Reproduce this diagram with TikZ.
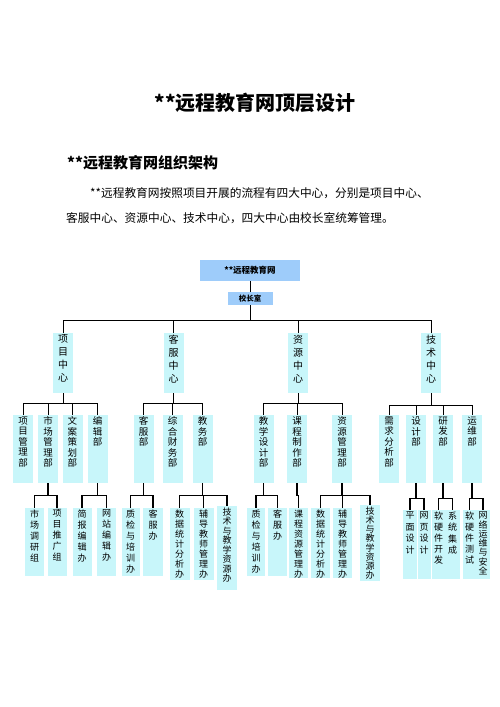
\documentclass[tikz,border=0pt]{standalone}
\usepackage{fontspec}
\newfontfamily\cjk{Noto Sans CJK SC}
\definecolor{topblue}{RGB}{158,204,250}
\definecolor{cyanbox}{RGB}{200,246,250}
\newcommand{\vt}[4]{\parbox[t][#1pt][t]{#2pt}{\centering\lineskiplimit=-20pt\baselineskip=#3pt\relax\vspace*{1.5pt}#4\par}}
\begin{document}
\begin{tikzpicture}[x=1pt,y=-1pt,
  ln/.style={draw=black,line width=0.8pt},
  lnb/.style={draw=black,line width=1.3pt},
  topbox/.style={fill=topblue,inner sep=0pt,font=\cjk\bfseries\fontsize{8.5}{10}\selectfont},
  lvA/.style={fill=cyanbox,inner sep=0pt,anchor=north,font=\cjk\fontsize{10}{12}\selectfont},
  lvB/.style={fill=cyanbox,inner sep=0pt,anchor=north,font=\cjk\fontsize{9.5}{11}\selectfont},
  lvC/.style={fill=cyanbox,inner sep=0pt,anchor=north,font=\cjk\fontsize{9}{11}\selectfont},
  txt/.style={inner sep=0pt,font=\cjk}]
\useasboundingbox (0,0) rectangle (500,707);
% headings
\node[txt,font=\cjk\bfseries\fontsize{20}{24}\selectfont] (title) at (255,103) {**远程教育网顶层设计};
\node[txt,anchor=west,font=\cjk\bfseries\fontsize{15}{18}\selectfont] (sub) at (67,163) {**远程教育网组织架构};
\node[txt,anchor=west,font=\cjk\fontsize{11.7}{14}\selectfont] (p1) at (90,193) {**远程教育网按照项目开展的流程有四大中心，分别是项目中心、};
\node[txt,anchor=west,font=\cjk\fontsize{11.7}{14}\selectfont] (p2) at (66,218) {客服中心、资源中心、技术中心，四大中心由校长室统筹管理。};
% top
\node[topbox,minimum width=100pt,minimum height=21pt] (root) at (250,270.5) {**远程教育网};
\node[topbox,minimum width=45pt,minimum height=13pt,font=\cjk\bfseries\fontsize{7.5}{9}\selectfont] (xzs) at (250,298.5) {校长室};
\draw[ln] (root.south) -- (xzs.north);
% centers
\node[lvA] (A) at (63,333) {\vt{60}{20}{13}{项\\目\\中\\心}};
\node[lvA] (B) at (173.5,333) {\vt{60}{20}{13}{客\\服\\中\\心}};
\node[lvA] (C) at (298,333) {\vt{60}{20}{13}{资\\源\\中\\心}};
\node[lvA] (D) at (431,333) {\vt{60}{20}{13}{技\\术\\中\\心}};
\foreach \n in {A,B,C,D} \draw[ln] (xzs.south) -- ++(0,15) -| (\n.north);
% departments
\node[lvB] (a1) at (23,415) {\vt{68}{20}{10.5}{项\\目\\管\\理\\部}};
\node[lvB] (a2) at (48,415) {\vt{68}{20}{10.5}{市\\场\\管\\理\\部}};
\node[lvB] (a3) at (72.5,415) {\vt{68}{20}{10.5}{文\\案\\策\\划\\部}};
\node[lvB] (a4) at (97.5,415) {\vt{68}{20}{10.5}{编\\辑\\部}};
\node[lvB] (b1) at (143.5,415) {\vt{68}{20}{10.5}{客\\服\\部}};
\node[lvB] (b2) at (172.5,415) {\vt{68}{20}{10.5}{综\\合\\财\\务\\部}};
\node[lvB] (b3) at (202.5,415) {\vt{68}{20}{10.5}{教\\务\\部}};
\node[lvB] (c1) at (263.5,415) {\vt{68}{20}{10.5}{教\\学\\设\\计\\部}};
\node[lvB] (c2) at (297,415) {\vt{68}{20}{10.5}{课\\程\\制\\作\\部}};
\node[lvB] (c3) at (342,415) {\vt{68}{20}{10.5}{资\\源\\管\\理\\部}};
\node[lvB] (d1) at (389,415) {\vt{68}{20}{10.5}{需\\求\\分\\析\\部}};
\node[lvB] (d2) at (416,415) {\vt{68}{20}{10.5}{设\\计\\部}};
\node[lvB] (d3) at (443,415) {\vt{68}{20}{10.5}{研\\发\\部}};
\node[lvB] (d4) at (472,415) {\vt{68}{20}{10.5}{运\\维\\部}};
\foreach \n in {a1,a2,a3,a4} \draw[ln] (A.south) -- ++(0,10) -| (\n.north);
\foreach \n in {b1,b2,b3} \draw[ln] (B.south) -- ++(0,10) -| (\n.north);
\foreach \n in {c1,c2,c3} \draw[ln] (C.south) -- ++(0,10) -| (\n.north);
\foreach \n in {d1,d2,d3,d4} \draw[ln] (D.south) -- ++(0,12) -| (\n.north);
% offices
\node[lvC] (a2x) at (34.5,508) {\vt{68}{19}{11}{市\\场\\调\\研\\组}};
\node[lvC] (a2y) at (57,508) {\vt{68}{19}{11}{项\\目\\推\\广\\组}};
\node[lvC] (a4x) at (82,508) {\vt{68}{19}{11}{简\\报\\编\\辑\\办}};
\node[lvC] (a4y) at (106.5,508) {\vt{68}{19}{11}{网\\站\\编\\辑\\办}};
\node[lvC] (b1x) at (130.5,508) {\vt{68}{18}{11}{质\\检\\与\\培\\训\\办}};
\node[lvC] (b1y) at (153,508) {\vt{68}{20}{11}{客\\服\\办}};
\node[lvC] (b3x) at (179.5,508) {\vt{72}{20}{10}{数\\据\\统\\计\\分\\析\\办}};
\node[lvC] (b3y) at (203.5,508) {\vt{72}{20}{10}{辅\\导\\教\\师\\管\\理\\办}};
\node[lvC] (b3z) at (227,506) {\vt{84}{20}{9.5}{技\\术\\与\\教\\学\\资\\源\\办}};
\node[lvC] (c1x) at (256,508) {\vt{68}{18}{11}{质\\检\\与\\培\\训\\办}};
\node[lvC] (c1y) at (277.5,508) {\vt{68}{19}{11}{客\\服\\办}};
\node[lvC] (c2x) at (298.5,508) {\vt{70}{19}{10}{课\\程\\资\\源\\管\\理\\办}};
\node[lvC] (c3x) at (320.5,508) {\vt{70}{19}{10}{数\\据\\统\\计\\分\\析\\办}};
\node[lvC] (c3y) at (342.5,508) {\vt{70}{19}{10}{辅\\导\\教\\师\\管\\理\\办}};
\node[lvC] (c3z) at (370,505) {\vt{76}{20}{9.2}{技\\术\\与\\教\\学\\资\\源\\办}};
\node[lvC] (d2x) at (410,510) {\vt{69}{14}{11.5}{平\\面\\设\\计}};
\node[lvC] (d2y) at (424,510) {\vt{69}{13}{11.5}{网\\页\\设\\计}};
\node[lvC] (d3x) at (438.5,510) {\vt{69}{14}{11}{软\\硬\\件\\开\\发}};
\node[lvC] (d3y) at (452.5,510) {\vt{69}{14}{11.5}{系\\统\\集\\成}};
\node[lvC] (d4x) at (469.5,510) {\vt{69}{14}{11}{软\\硬\\件\\测\\试}};
\node[lvC] (d4y) at (483,510) {\vt{69}{13}{9.3}{网\\络\\运\\维\\与\\安\\全}};
\foreach \n in {a2x,a2y} \draw[lnb] (a2.south) -- ++(0,12) -| (\n.north);
\foreach \n in {a4x,a4y} \draw[lnb] (a4.south) -- ++(0,12) -| (\n.north);
\foreach \n in {b1x,b1y} \draw[lnb] (b1.south) -- ++(0,12) -| (\n.north);
\foreach \n in {b3x,b3y,b3z} \draw[lnb] (b3.south) -- ++(0,12) -| (\n.north);
\foreach \n in {c1x,c1y} \draw[lnb] (c1.south) -- ++(0,12) -| (\n.north);
\draw[lnb] (c2.south) -- ++(0,12) -| (c2x.north);
\foreach \n in {c3x,c3y,c3z} \draw[lnb] (c3.south) -- ++(0,12) -| (\n.north);
\foreach \n in {d2x,d2y} \draw[lnb] (d2.south) -- ++(0,15) -| (\n.north);
\foreach \n in {d3x,d3y} \draw[lnb] (d3.south) -- ++(0,15) -| (\n.north);
\foreach \n in {d4x,d4y} \draw[lnb] (d4.south) -- ++(0,15) -| (\n.north);
\end{tikzpicture}
\end{document}
